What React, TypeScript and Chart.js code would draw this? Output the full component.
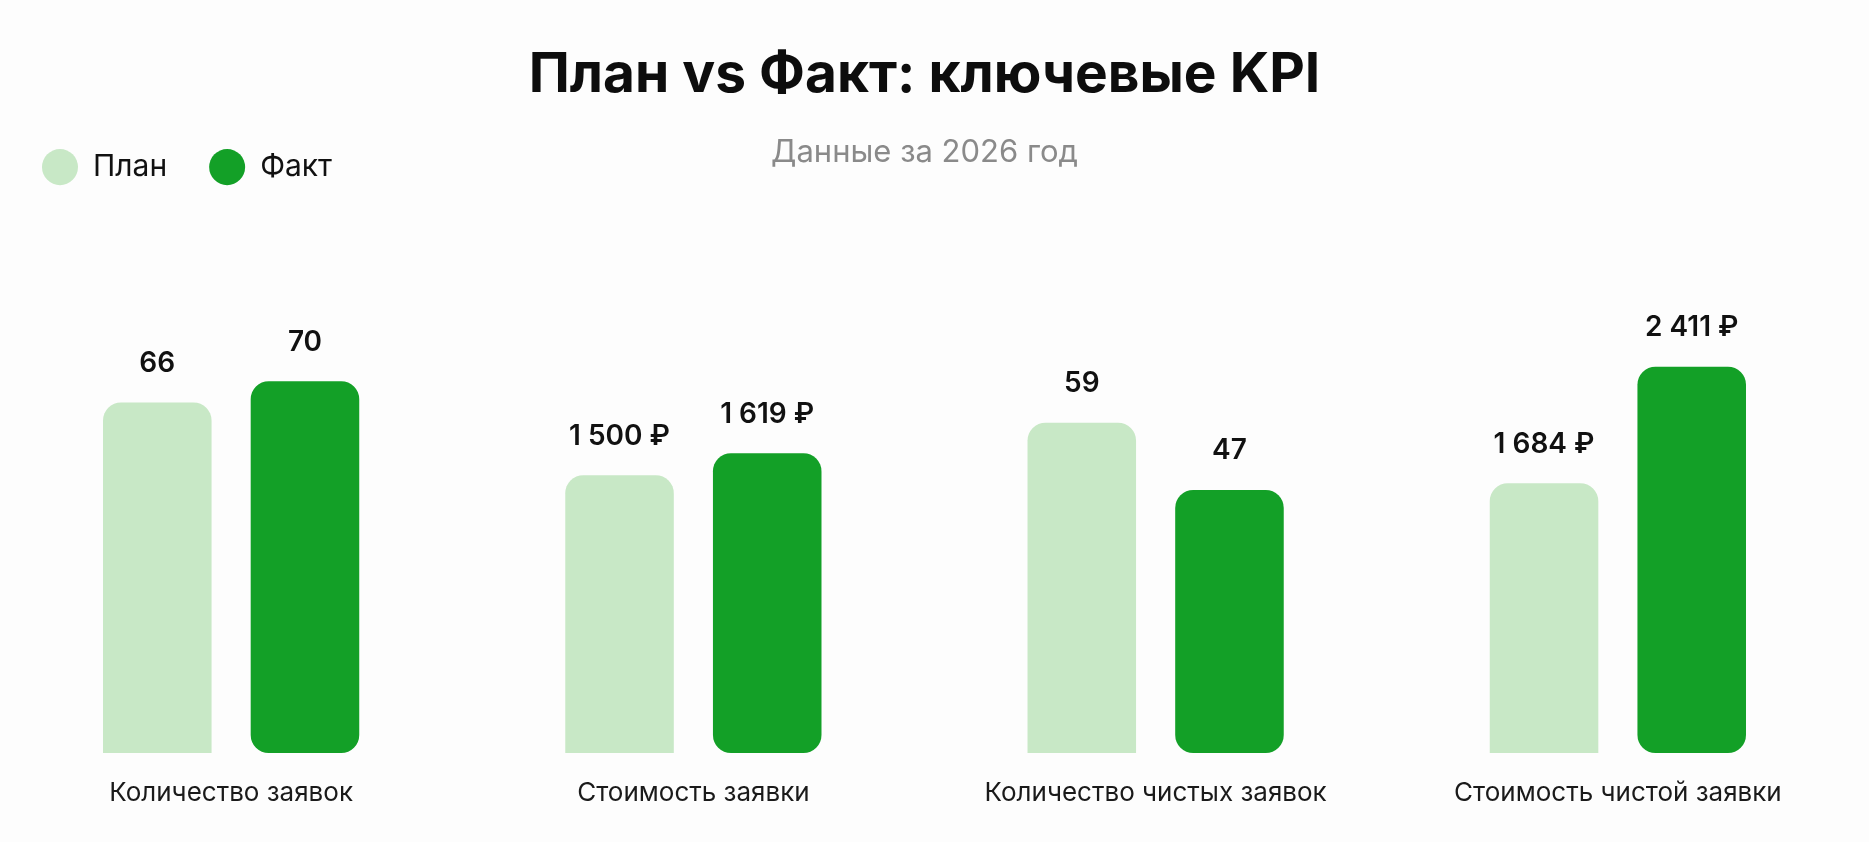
import { useEffect, useRef } from 'react';
import { Chart, registerables, ChartConfiguration, Plugin } from 'chart.js';

Chart.register(...registerables);

const categories = [
  'Количество заявок',
  'Стоимость заявки',
  'Количество чистых заявок',
  'Стоимость чистой заявки',
];
const planValues = [66, 1500, 59, 1684];
const factValues = [70, 1619, 47, 2411];
const valueUnits = ['', '₽', '', '₽'];
const seriesNames = ['План', 'Факт'];

// each KPI has its own scale, so every category gets a separate hidden y axis
const axisMax = [105.6, 3029, 100.2, 3501];

const PLAN_COLOR = '#c8e8c6';
const FACT_COLOR = '#13a027';

const formatValue = (v: number, unit: string) => {
  const s = String(v).replace(/\B(?=(\d{3})+(?!\d))/g, ' ');
  return unit ? `${s} ${unit}` : s;
};

const valueLabels: Plugin<'bar'> = {
  id: 'valueLabels',
  afterDatasetsDraw(chart) {
    const { ctx } = chart;
    ctx.save();
    ctx.font = '600 28px Inter';
    ctx.fillStyle = '#111111';
    ctx.textAlign = 'center';
    ctx.textBaseline = 'middle';
    chart.data.datasets.forEach((ds, di) => {
      const meta = chart.getDatasetMeta(di);
      meta.data.forEach((bar, i) => {
        const v = ds.data[i] as number | null;
        if (v === null || v === undefined) return;
        ctx.fillText(formatValue(v, valueUnits[i]), bar.x, bar.y - 39);
      });
    });
    ctx.restore();
  },
};

const KpiChart = () => {
  const chartRef = useRef<HTMLCanvasElement | null>(null);
  const chartInstance = useRef<Chart | null>(null);

  useEffect(() => {
    document.body.style.margin = '0';
    document.body.style.background = '#fdfdfd';

    if (chartInstance.current) {
      chartInstance.current.destroy();
    }
    if (!chartRef.current) return;
    const ctx = chartRef.current.getContext('2d');
    if (!ctx) return;

    Chart.defaults.font.family = 'Inter, "Noto Sans", sans-serif';

    const datasets: any[] = [];
    categories.forEach((_, i) => {
      datasets.push({
        label: seriesNames[0],
        data: categories.map((__, j) => (j === i ? planValues[i] : null)),
        yAxisID: 'y' + i,
        backgroundColor: PLAN_COLOR,
        borderRadius: 18,
        skipNull: true,
        categoryPercentage: 0.639,
        barPercentage: 0.735,
      });
      datasets.push({
        label: seriesNames[1],
        data: categories.map((__, j) => (j === i ? factValues[i] : null)),
        yAxisID: 'y' + i,
        backgroundColor: FACT_COLOR,
        borderRadius: 18,
        borderSkipped: false,
        skipNull: true,
        categoryPercentage: 0.639,
        barPercentage: 0.735,
      });
    });

    const yScales: any = {};
    axisMax.forEach((max, i) => {
      yScales['y' + i] = { display: false, min: 0, max };
    });

    const config: ChartConfiguration<'bar', (number | null)[], string> = {
      type: 'bar',
      data: { labels: categories, datasets },
      options: {
        responsive: true,
        maintainAspectRatio: false,
        animation: false,
        layout: { padding: { left: 0, right: 20, top: 0, bottom: 9 } },
        scales: {
          x: {
            grid: { display: false, drawTicks: false },
            border: { display: false },
            ticks: {
              padding: 24.4,
              color: '#1a1a1a',
              font: { size: 26 },
            },
          },
          ...yScales,
        },
        plugins: {
          title: {
            display: true,
            text: 'План vs Факт: ключевые KPI',
            color: '#0d0d0d',
            font: { size: 55, weight: 'bold' },
            padding: { top: 42, bottom: 2 },
          },
          // zero-height box: the subtitle shares its row with the legend
          subtitle: {
            display: true,
            text: 'Данные за 2026 год',
            color: '#8a8a8a',
            font: { size: 31 },
            padding: { top: 24.4, bottom: -61.5 },
          },
          legend: {
            position: 'top',
            align: 'start',
            labels: {
              usePointStyle: true,
              pointStyle: 'circle',
              pointStyleWidth: 36,
              boxHeight: 25.5,
              padding: 42,
              color: '#111111',
              font: { size: 30 },
              filter: (item) => (item.datasetIndex ?? 0) < 2,
            },
          },
          tooltip: { enabled: true },
        },
      },
      plugins: [valueLabels],
    };

    chartInstance.current = new Chart(ctx, config);

    return () => {
      if (chartInstance.current) {
        chartInstance.current.destroy();
        chartInstance.current = null;
      }
    };
  }, []);

  return (
    <div style={{ position: 'relative', width: '1869px', height: '842px' }}>
      <canvas ref={chartRef} style={{ display: 'block' }} />
    </div>
  );
};

export default function App() {
  return <KpiChart />;
}
